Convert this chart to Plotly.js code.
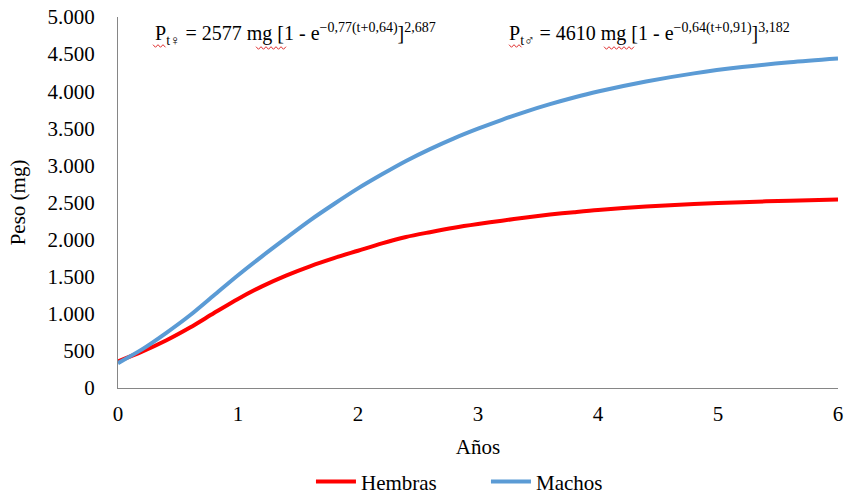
<!DOCTYPE html>
<html>
<head>
<meta charset="utf-8">
<script src="https://cdn.plot.ly/plotly-3.0.1.min.js"></script>
<style>html,body{margin:0;padding:0;background:#fff}#chart{width:846px;height:496px}</style>
</head>
<body>
<div id="chart"></div>
<script>
var years = [0,0.2,0.4,0.6,0.8,1.0,1.2,1.4,1.6,1.8,2.0,2.2,2.4,2.6,2.8,3.0,3.2,3.4,3.6,3.8,4.0,4.4,4.8,5.2,5.6,6.0];
var hembras = [360,490,640,815,1010,1200,1370,1515,1640,1750,1850,1950,2035,2100,2160,2210,2255,2298,2337,2370,2400,2445,2480,2505,2525,2540];
var machos = [335,520,740,980,1250,1520,1775,2020,2260,2480,2690,2880,3060,3220,3365,3495,3615,3725,3825,3915,3995,4130,4240,4325,4390,4440];
var seriesNames = ['Hembras','Machos'];
var xTicks = [0,1,2,3,4,5,6];
var yTicks = [0,500,1000,1500,2000,2500,3000,3500,4000,4500,5000];

var F = 'Liberation Serif';
var ML = 118, MT = 17, PW = 720, PH = 371;

// spell-check style wavy underlines (decoration), given in pixel spans
function wavy(x0, x1, py) {
  var d = '', step = 2.5, up = true;
  for (var px = x0; px <= x1 + 0.01; px += step) {
    var yy = py + (up ? -1.3 : 1.3);
    var xp = (px - ML) / PW, yp = (MT + PH - yy) / PH;
    d += (d ? ' L ' : 'M ') + xp.toFixed(5) + ',' + yp.toFixed(5);
    up = !up;
  }
  return {type:'path', xref:'paper', yref:'paper', path:d, line:{color:'#E03030', width:1}};
}

var traces = [
  {x: years, y: hembras, name: seriesNames[0], type:'scatter', mode:'lines',
   line:{color:'#FF0000', width:4, shape:'spline', smoothing:0.8}},
  {x: years, y: machos, name: seriesNames[1], type:'scatter', mode:'lines',
   line:{color:'#5B9BD5', width:4, shape:'spline', smoothing:0.8}}
];
var layout = {
  width:846, height:496,
  margin:{l:ML, r:8, t:MT, b:108, autoexpand:false},
  paper_bgcolor:'#fff', plot_bgcolor:'#fff',
  separators:',.',
  font:{family:F, size:21, color:'#000'},
  showlegend:true,
  legend:{orientation:'h', x:0.268, xanchor:'left', y:-0.253, yanchor:'middle',
          font:{family:F, size:21}, itemwidth:40, entrywidth:120, entrywidthmode:'pixels'},
  xaxis:{range:[0,6], tickvals:xTicks, showgrid:false, zeroline:false, automargin:false,
         showline:true, linecolor:'#868686', linewidth:1, ticks:'',
         ticklabelstandoff:7, tickfont:{family:F, size:21},
         title:{text:'Años', font:{family:F, size:21}, standoff:14}},
  yaxis:{range:[0,5000], tickvals:yTicks, tickformat:',', showgrid:false, zeroline:false, automargin:false,
         showline:true, linecolor:'#868686', linewidth:1, ticks:'',
         ticklabelstandoff:18, tickfont:{family:F, size:21},
         title:{text:'Peso (mg)', font:{family:F, size:21}, standoff:16}},
  shapes:[wavy(153,167,46), wavy(256,286,48), wavy(509,523,46), wavy(604,634,48)],
  annotations:[
    {xref:'paper', yref:'paper', x:0.0486, y:0.955, xanchor:'left', yanchor:'middle', showarrow:false,
     font:{family:F, size:20, color:'#000'},
     text:'P<sub>t♀</sub> = 2577 mg [1 - e<sup>−0,77(t+0,64)</sup>]<sup>2,687</sup>'},
    {xref:'paper', yref:'paper', x:0.54, y:0.955, xanchor:'left', yanchor:'middle', showarrow:false,
     font:{family:F, size:20, color:'#000'},
     text:'P<sub>t♂</sub> = 4610 mg [1 - e<sup>−0,64(t+0,91)</sup>]<sup>3,182</sup>'}
  ]
};
Plotly.newPlot('chart', traces, layout, {displayModeBar:false, staticPlot:true});
</script>
</body>
</html>
